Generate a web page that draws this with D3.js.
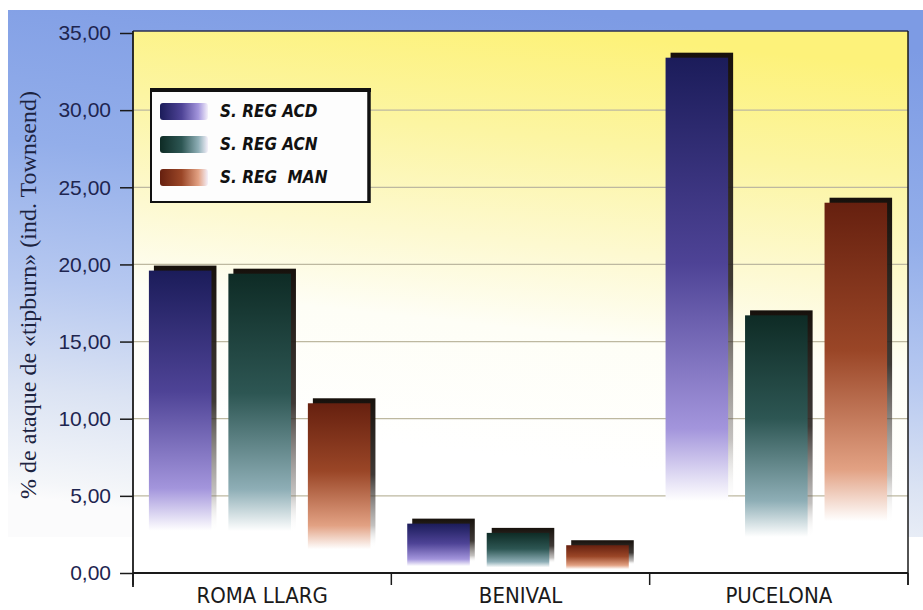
<!DOCTYPE html>
<html>
<head>
<meta charset="utf-8">
<script src="https://cdn.jsdelivr.net/npm/d3@7"></script>
<style>
  html, body { margin: 0; padding: 0; background: #ffffff; }
  svg { display: block; }
</style>
</head>
<body>
<svg id="chart" width="923" height="610"></svg>
<script>
// Attack percentage ("tipburn", Townsend index) per site and treatment
const categories = ["ROMA LLARG", "BENIVAL", "PUCELONA"];
const seriesNames = ["S. REG ACD", "S. REG ACN", "S. REG  MAN"];
const acdValues = [19.6, 3.2, 33.4];
const acnValues = [19.4, 2.6, 16.7];
const manValues = [11.0, 1.8, 24.0];
const yTickValues = [0, 5, 10, 15, 20, 25, 30, 35];
const yTitle = "% de ataque de «tipburn» (ind. Townsend)";

const seriesValues = [acdValues, acnValues, manValues];

// colour ramps for each treatment: top, middle, light, base
const ramps = [
  ["#1b1c5a", "#4e4396", "#a395dc", "#ffffff"],
  ["#0e2b25", "#2d5653", "#8eaeb6", "#ffffff"],
  ["#66200f", "#9a4627", "#e2a183", "#ffffff"]
];

const svg = d3.select("#chart");
const W = 923, H = 610;
const plot = { left: 133, right: 908, top: 33, bottom: 573 };

const y = d3.scaleLinear().domain([0, 35]).range([plot.bottom, plot.top]);
const x0 = d3.scaleBand().domain(categories).range([plot.left, plot.right]);
const x1 = d3.scaleBand().domain(d3.range(seriesNames.length))
  .range([0, x0.bandwidth()]).paddingInner(0.15).paddingOuter(0.2);

const defs = svg.append("defs");

// outer panel: blue fading to white toward the bottom
const panelGrad = defs.append("linearGradient").attr("id", "panelGrad")
  .attr("x1", 0.6).attr("y1", 0).attr("x2", 0.4).attr("y2", 1);
[[0, "#7d9be4"], [0.35, "#93aeea"], [0.6, "#b6c8f0"], [0.8, "#dbe3f3"], [0.97, "#f4f6f9"], [1, "#fbfbfc"]]
  .forEach(([o, c]) => panelGrad.append("stop").attr("offset", o).attr("stop-color", c));

// plot background: yellow fading to white
const plotGrad = defs.append("linearGradient").attr("id", "plotGrad")
  .attr("x1", 0.56).attr("y1", 0).attr("x2", 0.44).attr("y2", 0.78);
[[0, "#fdf27a"], [0.25, "#fcf5a2"], [0.5, "#fdf9d0"], [0.7, "#fefef6"], [1, "#ffffff"]]
  .forEach(([o, c]) => plotGrad.append("stop").attr("offset", o).attr("stop-color", c));

// bar fills (vertical) and legend swatches (horizontal)
ramps.forEach((r, i) => {
  const g = defs.append("linearGradient").attr("id", "bar" + i)
    .attr("x1", 0).attr("y1", 0).attr("x2", 0).attr("y2", 1);
  [[0, r[0]], [0.4, r[1]], [0.72, r[2]], [0.86, r[3]], [1, r[3]]]
    .forEach(([o, c]) => g.append("stop").attr("offset", o).attr("stop-color", c));
  const s = defs.append("linearGradient").attr("id", "sw" + i)
    .attr("x1", 0).attr("y1", 0).attr("x2", 1).attr("y2", 0);
  [[0, r[0]], [0.45, r[1]], [0.8, r[2]], [1, "#f4f0fa"]]
    .forEach(([o, c]) => s.append("stop").attr("offset", o).attr("stop-color", c));
});

// dark side of the bars
const sideGrad = defs.append("linearGradient").attr("id", "sideGrad")
  .attr("x1", 0).attr("y1", 0).attr("x2", 0).attr("y2", 1);
[[0, "#17110c", 1], [0.45, "#2a2420", 0.9], [0.75, "#6a6460", 0.4], [0.88, "#ffffff", 0]]
  .forEach(([o, c, op]) => sideGrad.append("stop").attr("offset", o)
    .attr("stop-color", c).attr("stop-opacity", op));

// panel
svg.append("rect").attr("x", 8).attr("y", 10).attr("width", W - 8).attr("height", 527)
  .attr("fill", "url(#panelGrad)");

// plot area
svg.append("rect").attr("x", plot.left).attr("y", plot.top - 2)
  .attr("width", plot.right - plot.left).attr("height", plot.bottom - plot.top + 2)
  .attr("fill", "url(#plotGrad)");

// gridlines
svg.append("g").selectAll("line").data(yTickValues.filter(d => d > 0 && d < 35)).join("line")
  .attr("x1", plot.left).attr("x2", plot.right)
  .attr("y1", d => y(d)).attr("y2", d => y(d))
  .attr("stroke", "#bdb8a0").attr("stroke-width", 1.3);

// bars
const depth = 5;
const groups = svg.append("g").selectAll("g").data(categories).join("g")
  .attr("transform", d => `translate(${x0(d)},0)`);

groups.each(function (cat, ci) {
  const g = d3.select(this);
  seriesValues.forEach((vals, si) => {
    const v = vals[ci];
    const bx = x1(si);
    const bw = x1.bandwidth() - depth;
    const top = y(v);
    const h = y(0) - top;
    g.append("rect").attr("x", bx + depth).attr("y", top - depth)
      .attr("width", bw).attr("height", h)
      .attr("fill", "url(#sideGrad)");
    g.append("rect").attr("x", bx).attr("y", top)
      .attr("width", bw).attr("height", h)
      .attr("fill", `url(#bar${si})`);
  });
});

// plot frame (top and right)
svg.append("line").attr("x1", plot.left).attr("x2", plot.right)
  .attr("y1", plot.top - 2).attr("y2", plot.top - 2)
  .attr("stroke", "#2a2f55").attr("stroke-width", 1.5);
svg.append("line").attr("x1", plot.right).attr("x2", plot.right)
  .attr("y1", plot.top - 2).attr("y2", plot.bottom + 12)
  .attr("stroke", "#1a1a1a").attr("stroke-width", 1.5);

// y axis
const yAxis = d3.axisLeft(y).tickValues(yTickValues).tickSize(13).tickPadding(9)
  .tickFormat(d => d3.format(".2f")(d).replace(".", ","));
const yg = svg.append("g").attr("transform", `translate(${plot.left},0)`).call(yAxis);
yg.select(".domain").remove();
yg.selectAll(".tick line").attr("stroke", "#1a1a1a").attr("stroke-width", 1.5);
yg.selectAll(".tick text")
  .attr("font-family", "'Liberation Sans', Arial, sans-serif")
  .attr("font-size", 21).attr("fill", "#1e2550");
svg.append("line").attr("x1", plot.left).attr("x2", plot.left)
  .attr("y1", plot.top - 2).attr("y2", plot.bottom + 14)
  .attr("stroke", "#1a1a1a").attr("stroke-width", 1.8);

// x axis
const xAxis = d3.axisBottom(x0).tickSize(0).tickPadding(14);
const xg = svg.append("g").attr("transform", `translate(0,${plot.bottom})`).call(xAxis);
xg.select(".domain").remove();
xg.selectAll(".tick text")
  .attr("font-family", "'Liberation Sans Narrow', 'Arial Narrow', 'DejaVu Sans Condensed', sans-serif")
  .attr("font-size", 22).attr("fill", "#1a1a1a").attr("dy", "0.72em");
svg.append("line").attr("x1", plot.left).attr("x2", plot.right)
  .attr("y1", plot.bottom).attr("y2", plot.bottom)
  .attr("stroke", "#1a1a1a").attr("stroke-width", 1.8);
// category separators
const sepX = categories.map(c => x0(c)).concat([plot.right]);
svg.append("g").selectAll("line").data(sepX).join("line")
  .attr("x1", d => d).attr("x2", d => d)
  .attr("y1", plot.bottom).attr("y2", plot.bottom + 12)
  .attr("stroke", "#1a1a1a").attr("stroke-width", 1.5);

// y axis title
svg.append("text")
  .attr("transform", `translate(36,${(90 + 500) / 2}) rotate(-90)`)
  .attr("text-anchor", "middle")
  .attr("font-family", "'Liberation Serif', 'Times New Roman', serif")
  .attr("font-size", 24).attr("fill", "#1c2340")
  .text(yTitle);

// legend
const lg = svg.append("g");
lg.append("rect").attr("x", 151).attr("y", 90).attr("width", 218).attr("height", 112)
  .attr("fill", "#fdfdfd").attr("stroke", "#111").attr("stroke-width", 2);
lg.append("line").attr("x1", 150).attr("x2", 371).attr("y1", 90).attr("y2", 90)
  .attr("stroke", "#111").attr("stroke-width", 4);
lg.append("line").attr("x1", 369).attr("x2", 369).attr("y1", 89).attr("y2", 203)
  .attr("stroke", "#111").attr("stroke-width", 3.5);
const rowY = [111, 144, 177];
seriesNames.forEach((name, i) => {
  lg.append("rect").attr("x", 160).attr("y", rowY[i] - 8).attr("width", 48).attr("height", 17)
    .attr("rx", 3).attr("fill", `url(#sw${i})`);
  lg.append("text").attr("x", 220).attr("y", rowY[i] + 6)
    .attr("font-family", "'Liberation Sans Narrow', 'Arial Narrow', 'DejaVu Sans Condensed', sans-serif")
    .attr("font-size", 17).attr("font-weight", "bold").attr("font-style", "italic")
    .attr("fill", "#111").style("white-space", "pre")
    .text(name);
});
</script>
</body>
</html>
